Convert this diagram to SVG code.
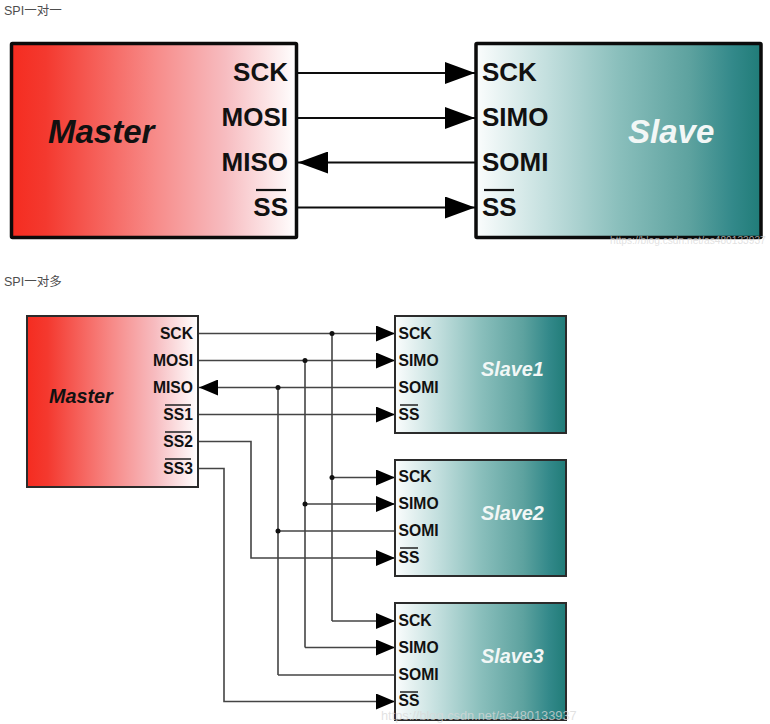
<svg xmlns="http://www.w3.org/2000/svg" width="770" height="724" viewBox="0 0 770 724">
<style>
text{font-family:"Liberation Sans",Arial,sans-serif;font-weight:700;fill:#111}
.cap{font-family:"Liberation Sans","Noto Sans CJK SC",sans-serif;font-weight:400;font-size:12.500px;fill:#4d4d4d}
.b1{font-size:26px}.b2{font-size:15.700px}
.t1{font-size:33px;font-style:italic}.t2{font-size:19.800px;font-style:italic}
.w{fill:#f2f7f6}
.box1{stroke:#0b0b0b;stroke-width:3.500}.box2{stroke:#2b2b2b;stroke-width:2}
.o1{stroke:#111;stroke-width:2.200}.o2{stroke:#222;stroke-width:1.500}
.c1{fill:none;stroke:#0d0d0d;stroke-width:2.200}
.c2{fill:none;stroke:#444;stroke-width:1.600}
.mark{font-weight:400;fill:#d8d8d8;fill-opacity:.75}
</style>
<defs>
<linearGradient id="red"><stop offset="0" stop-color="#f52c20"/><stop offset=".12" stop-color="#f4392f"/><stop offset=".5" stop-color="#f78a88"/><stop offset=".75" stop-color="#f7bcc0"/><stop offset="1" stop-color="#ffffff"/></linearGradient>
<linearGradient id="teal"><stop offset="0" stop-color="#fbfdfd"/><stop offset=".25" stop-color="#c3dfde"/><stop offset=".5" stop-color="#8abfbc"/><stop offset=".75" stop-color="#5da29f"/><stop offset=".9" stop-color="#33898a"/><stop offset="1" stop-color="#207c78"/></linearGradient>
<marker id="a1" markerUnits="userSpaceOnUse" markerWidth="32" markerHeight="22" refX="30" refY="11" orient="auto"><path d="M0 0L30 11L0 22Z" fill="#000"/></marker>
<marker id="a2" markerUnits="userSpaceOnUse" markerWidth="20" markerHeight="16" refX="19" refY="8" orient="auto"><path d="M0 0L19 8L0 16Z" fill="#000"/></marker>
</defs>
<rect width="770" height="724" fill="#fff"/>
<text class="cap" x="4" y="15">SPI一对一</text>
<text class="cap" x="4" y="286">SPI一对多</text>

<g id="connectors">
<path class="c1" marker-end="url(#a1)" d="M297 73H475"/>
<path class="c1" marker-end="url(#a1)" d="M297 118H475"/>
<path class="c1" marker-end="url(#a1)" d="M475 162.500H298"/>
<path class="c1" marker-end="url(#a1)" d="M297 207.500H475"/>
<path class="c2" marker-end="url(#a2)" d="M198 333.500H395"/>
<path class="c2" marker-end="url(#a2)" d="M198 360.500H395"/>
<path class="c2" marker-end="url(#a2)" d="M395 387.500H199"/>
<path class="c2" marker-end="url(#a2)" d="M198 414.500H395"/>
<path class="c2" d="M332 333.500V621"/>
<path class="c2" d="M305 360.500V647.500"/>
<path class="c2" d="M278 387.500V675"/>
<path class="c2" marker-end="url(#a2)" d="M332 477.500H395"/>
<path class="c2" marker-end="url(#a2)" d="M305 504H395"/>
<path class="c2" d="M278 531H395"/>
<path class="c2" marker-end="url(#a2)" d="M198 441.500H251V558H395"/>
<path class="c2" marker-end="url(#a2)" d="M332 621H395"/>
<path class="c2" marker-end="url(#a2)" d="M305 647.500H395"/>
<path class="c2" d="M278 675H395"/>
<path class="c2" marker-end="url(#a2)" d="M198 468.500H224V701.500H395"/>
<g fill="#111"><circle cx="332" cy="333.500" r="2.500"/><circle cx="305" cy="360.500" r="2.500"/><circle cx="278" cy="387.500" r="2.500"/><circle cx="332" cy="477.500" r="2.500"/><circle cx="305" cy="504" r="2.500"/><circle cx="278" cy="531" r="2.500"/></g>
</g>

<g id="master-top">
<rect class="box1" x="11.500" y="43.500" width="285" height="194" rx="1" fill="url(#red)"/>
<text class="t1" x="48" y="142.500">Master</text>
<g class="b1" text-anchor="end"><text x="288" y="80.500">SCK</text><text x="288" y="125.500">MOSI</text><text x="288" y="170.500">MISO</text><text x="288" y="215.500">SS</text></g>
<path class="o1" d="M256 190H286"/>
</g>
<g id="slave-top">
<rect class="box1" x="476" y="43.500" width="285" height="194" rx="1" fill="url(#teal)"/>
<text class="t1 w" x="628" y="142.500">Slave</text>
<g class="b1"><text x="482" y="80.500">SCK</text><text x="482" y="125.500">SIMO</text><text x="482" y="170.500">SOMI</text><text x="482" y="215.500">SS</text></g>
<path class="o1" d="M484 190H514"/>
</g>

<g id="master-bottom">
<rect class="box2" x="27" y="316" width="171" height="171" fill="url(#red)"/>
<text class="t2" x="49" y="403">Master</text>
<g class="b2" text-anchor="end"><text x="193" y="338.500">SCK</text><text x="193" y="365.500">MOSI</text><text x="193" y="392.500">MISO</text><text x="193" y="419.500">SS1</text><text x="193" y="446.500">SS2</text><text x="193" y="473.500">SS3</text></g>
<path class="o2" d="M165 405H191M165 432H191M165 459H191"/>
</g>
<g id="slave1">
<rect class="box2" x="395" y="316" width="171" height="117" fill="url(#teal)"/>
<text class="t2 w" x="481" y="376">Slave1</text>
<g class="b2"><text x="398.500" y="338.500">SCK</text><text x="398.500" y="365.500">SIMO</text><text x="398.500" y="392.500">SOMI</text><text x="398.500" y="419.500">SS</text></g>
<path class="o2" d="M400 405H418"/>
</g>
<g id="slave2">
<rect class="box2" x="395" y="460" width="171" height="116" fill="url(#teal)"/>
<text class="t2 w" x="481" y="520">Slave2</text>
<g class="b2"><text x="398.500" y="482">SCK</text><text x="398.500" y="509">SIMO</text><text x="398.500" y="536">SOMI</text><text x="398.500" y="563">SS</text></g>
<path class="o2" d="M400 548H418"/>
</g>
<g id="slave3">
<rect class="box2" x="395" y="603" width="171" height="117" fill="url(#teal)"/>
<text class="t2 w" x="481" y="663">Slave3</text>
<g class="b2"><text x="398.500" y="625.500">SCK</text><text x="398.500" y="652.500">SIMO</text><text x="398.500" y="679.500">SOMI</text><text x="398.500" y="706">SS</text></g>
<path class="o2" d="M400 692H418"/>
</g>
<text class="mark" x="610" y="244" style="font-size:10.200px">https://blog.csdn.net/as480133937</text>
<text class="mark" x="381" y="720" style="font-size:12.800px">https://blog.csdn.net/as480133937</text>
</svg>
